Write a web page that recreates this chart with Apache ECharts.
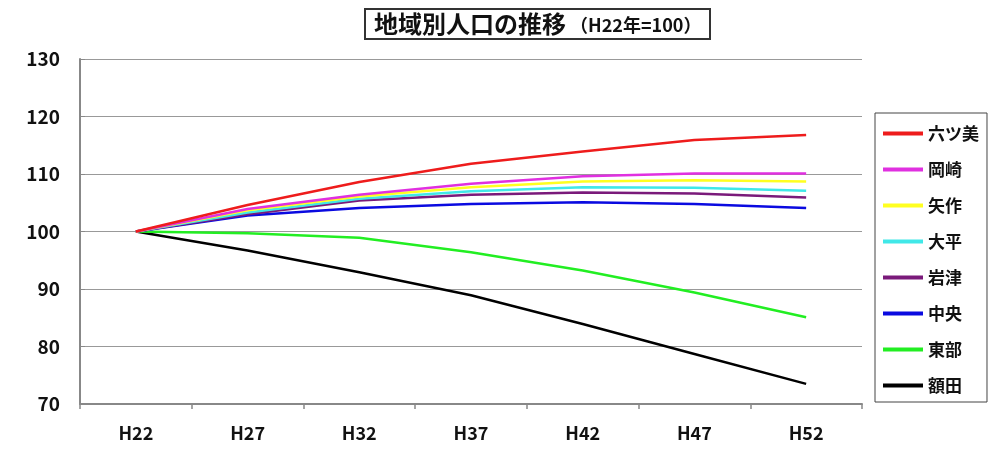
<!DOCTYPE html>
<html><head><meta charset="utf-8">
<script src="https://cdn.jsdelivr.net/npm/echarts@6/dist/echarts.min.js"></script>
<style>html,body{margin:0;padding:0;background:#fff}#c{width:997px;height:454px}</style>
</head><body><div id="c"></div>
<script>
const categories = ['H22','H27','H32','H37','H42','H47','H52'];
const seriesNames = ['六ツ美','岡崎','矢作','大平','岩津','中央','東部','額田'];
const mutsumi = [100,104.6,108.6,111.8,113.9,115.9,116.8];
const okazaki = [100,103.9,106.4,108.3,109.6,110.1,110.1];
const yahagi  = [100,103.7,106.1,107.7,108.7,108.9,108.7];
const ohira   = [100,103.3,105.7,107.0,107.7,107.6,107.1];
const iwazu   = [100,103.0,105.4,106.4,106.8,106.6,105.9];
const chuo    = [100,102.8,104.1,104.8,105.1,104.8,104.1];
const tobu    = [100,99.7,98.9,96.4,93.2,89.4,85.1];
const nukata  = [100,96.7,92.9,88.9,83.9,78.7,73.5];
const yTicks = [70,80,90,100,110,120,130];
const values = [mutsumi,okazaki,yahagi,ohira,iwazu,chuo,tobu,nukata];
const colors = ['#ee1c1c','#e030e0','#ffff20','#40e8e8','#7a1a7a','#0a0ae0','#22ee22','#000000'];
const FONT = '"Noto Sans CJK JP", sans-serif';
const chart = echarts.init(document.getElementById('c'));
chart.setOption({
  animation:false,
  backgroundColor:'#fff',
  title:{
    text:'{a|地域別人口の推移}{b| （H22年=100）}',
    left:365, top:8,
    padding:[3,9,3,9],
    borderColor:'#333', borderWidth:2,
    textStyle:{rich:{
      a:{fontFamily:FONT,fontWeight:'bold',fontSize:24,color:'#111',lineHeight:26},
      b:{fontFamily:FONT,fontWeight:'bold',fontSize:18,color:'#111',padding:[3,0,0,0]}
    }}
  },
  legend:{
    orient:'vertical', left:875, top:113,
    padding:[12,8,8,8],
    borderColor:'#444', borderWidth:1,
    itemWidth:40, itemHeight:4, itemGap:19,
    icon:'rect',
    data:seriesNames,
    textStyle:{fontFamily:FONT,fontWeight:'bold',fontSize:17,color:'#111',lineHeight:17}
  },
  grid:{left:80,right:135,top:59,bottom:50,containLabel:false},
  xAxis:{
    type:'category', data:categories, boundaryGap:true,
    axisLine:{lineStyle:{color:'#888',width:2}},
    axisTick:{show:true,length:5,lineStyle:{color:'#888',width:1.5},interval:0},
    axisLabel:{fontFamily:FONT,fontWeight:'bold',fontSize:18,color:'#111',margin:20}
  },
  yAxis:{
    type:'value', min:yTicks[0], max:yTicks[yTicks.length-1], interval:10,
    axisLine:{show:true,lineStyle:{color:'#888',width:2}},
    axisTick:{show:true,inside:true,length:5,lineStyle:{color:'#888'}},
    splitLine:{lineStyle:{color:'#999',width:1}},
    axisLabel:{fontFamily:FONT,fontWeight:'bold',fontSize:19,color:'#111',margin:20}
  },
  series: seriesNames.map((n,i)=>({
    name:n, type:'line', data:values[i], symbol:'none',
    color:colors[i],
    lineStyle:{width:2.5,color:colors[i]},
    z: 10-i
  }))
});
</script></body></html>
